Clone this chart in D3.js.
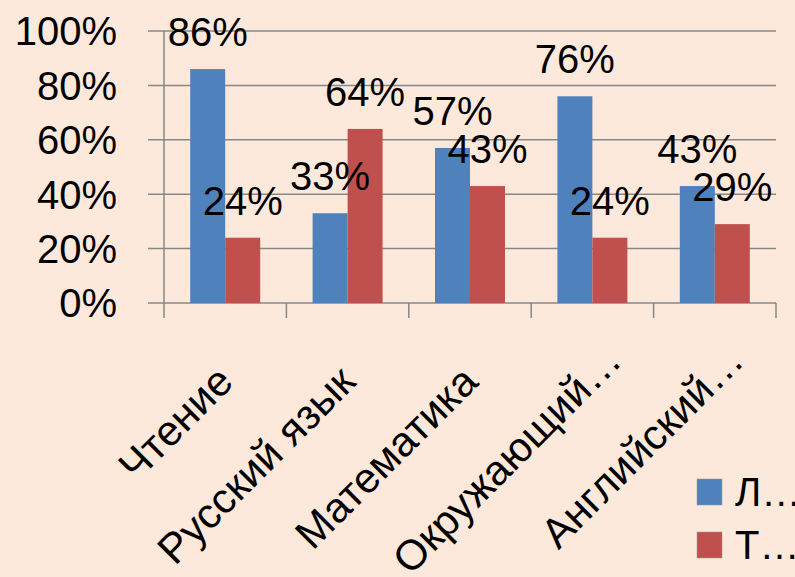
<!DOCTYPE html>
<html>
<head>
<meta charset="utf-8">
<script src="https://cdn.jsdelivr.net/npm/d3@7"></script>
<style>
  body { margin: 0; background: #fde9db; }
  text { font-family: "Liberation Sans", Arial, sans-serif; fill: #000; }
</style>
</head>
<body>
<svg id="chart" width="795" height="577"></svg>
<script>
// chart data
var categories = ["Чтение", "Русский язык", "Математика", "Окружающий…", "Английский…"];
var seriesNames = ["Л…", "Т…"];
var seriesL = [86, 33, 57, 76, 43];
var seriesT = [24, 64, 43, 24, 29];
var yTicks = [0, 20, 40, 60, 80, 100];
var colors = ["#4f81bd", "#c0504d"];

var svg = d3.select("#chart");
var plotLeft = 164, plotRight = 776, plotTop = 31, plotBottom = 303;

var x = d3.scaleBand().domain(categories).range([plotLeft, plotRight]);
var y = d3.scaleLinear().domain([0, 100]).range([plotBottom, plotTop]);
var barW = 35;

/* gridlines + tick marks */
svg.append("g").selectAll("line")
  .data(yTicks).enter().append("line")
  .attr("x1", plotLeft - 16).attr("x2", plotRight)
  .attr("y1", function(d){ return y(d); })
  .attr("y2", function(d){ return y(d); })
  .style("stroke", "#878787").style("stroke-width", 1.5);

svg.append("line")
  .attr("x1", plotLeft).attr("x2", plotLeft).attr("y1", plotTop).attr("y2", plotBottom + 15)
  .style("stroke", "#878787").style("stroke-width", 1.5);

// category tick marks on x axis
var bounds = categories.map(function(c){ return x(c) + x.bandwidth(); });
svg.append("g").selectAll("line")
  .data(bounds).enter().append("line")
  .attr("x1", function(d){ return d; }).attr("x2", function(d){ return d; })
  .attr("y1", plotBottom).attr("y2", plotBottom + 15)
  .style("stroke", "#878787").style("stroke-width", 1.5);

// y labels
svg.append("g").selectAll("text")
  .data(yTicks).enter().append("text")
  .attr("x", 117).attr("y", function(d){ return y(d); })
  .attr("dy", "0.36em")
  .attr("text-anchor", "end")
  .style("font-size", "40px")
  .text(function(d){ return d + "%"; });

// bars
var series = [seriesL, seriesT];
series.forEach(function(vals, s) {
  var g = svg.append("g");
  var off = (x.bandwidth() - 2 * barW) / 2 + s * barW;
  g.selectAll("rect")
    .data(vals).enter().append("rect")
    .attr("x", function(d, i){ return x(categories[i]) + off; })
    .attr("y", function(d){ return y(d); })
    .attr("width", barW)
    .attr("height", function(d){ return plotBottom - y(d); })
    .style("fill", colors[s]);
});

// data labels (drawn after all bars so they sit on top)
series.forEach(function(vals, s) {
  var off = (x.bandwidth() - 2 * barW) / 2 + s * barW + barW / 2;
  svg.append("g").selectAll("text")
    .data(vals).enter().append("text")
    .attr("x", function(d, i){ return x(categories[i]) + off; })
    .attr("y", function(d){ return y(d) - 23; })
    .attr("text-anchor", "middle")
    .style("font-size", "40px")
    .text(function(d){ return d + "%"; });
});

// rotated category labels (truncated ones sit a bit further along)
svg.append("g").selectAll("text")
  .data(categories).enter().append("text")
  .attr("transform", function(d){
    return "translate(" + (x(d) + x.bandwidth() / 2 + 10) + "," + 384 + ") rotate(-45)";
  })
  .attr("text-anchor", "end")
  .attr("dx", function(d){ return d.slice(-1) == "…" ? 30 : 0; })
  .style("font-size", "42px")
  .text(function(d){ return d; });

// legend
var legend = svg.append("g").selectAll("g")
  .data(seriesNames).enter().append("g")
  .attr("transform", function(d, i){ return "translate(697," + (479 + i * 53) + ")"; });
legend.append("rect")
  .attr("width", 25).attr("height", 26)
  .style("fill", function(d, i){ return colors[i]; })
  .style("stroke", "#999").style("stroke-width", 0.5);
legend.append("text")
  .attr("x", 38).attr("y", 13).attr("dy", "0.36em")
  .style("font-size", "40px")
  .text(function(d){ return d; });
</script>
</body>
</html>
